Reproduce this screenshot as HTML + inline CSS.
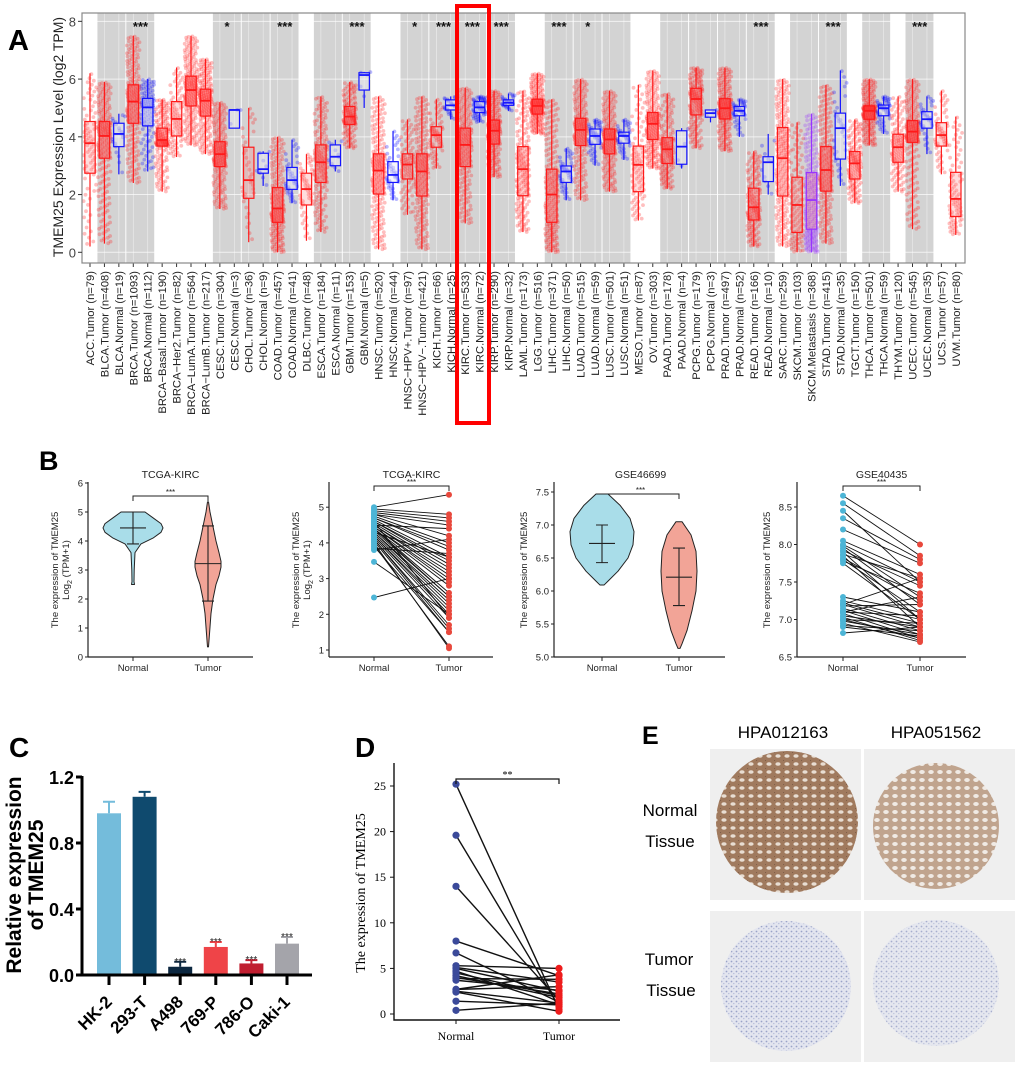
<!DOCTYPE html>
<html><head><meta charset="utf-8"><style>
html,body{margin:0;padding:0;background:#fff;overflow:hidden;}
svg{display:block;font-family:"Liberation Sans",sans-serif;}
</style></head><body>
<svg id="fig" width="1020" height="1066" viewBox="0 0 1020 1066" xmlns="http://www.w3.org/2000/svg">
<rect x="0" y="0" width="1020" height="1066" fill="#fff"/>
<g id="pA"></g>
<g id="pB"></g>
<g id="pC"></g>
<g id="pD"></g>
<g id="pE">
  <defs>
    <pattern id="tubBrown" width="9" height="8" patternUnits="userSpaceOnUse">
      <rect width="9" height="8" fill="#a07a5e"/>
      <ellipse cx="4" cy="4" rx="2.6" ry="1.8" fill="#e8ddd2"/>
      <ellipse cx="0" cy="0" rx="1.2" ry="1" fill="#7a5a45"/>
    </pattern>
    <pattern id="tubTan" width="9" height="8" patternUnits="userSpaceOnUse">
      <rect width="9" height="8" fill="#c0a48e"/>
      <ellipse cx="4" cy="4" rx="2.8" ry="2" fill="#f0eae4"/>
    </pattern>
    <pattern id="tumBlue" width="5" height="5" patternUnits="userSpaceOnUse">
      <rect width="5" height="5" fill="#e3e5ef"/>
      <circle cx="1.5" cy="1.5" r="0.9" fill="#9aa3c8"/>
      <circle cx="3.8" cy="3.6" r="0.7" fill="#b7bdd8"/>
    </pattern>
  </defs>
  <text x="642" y="744" font-size="25" font-weight="bold">E</text>
  <text x="783" y="738" font-size="17" text-anchor="middle">HPA012163</text>
  <text x="936" y="738" font-size="17" text-anchor="middle">HPA051562</text>
  <text x="670" y="816" font-size="17" text-anchor="middle">Normal</text>
  <text x="670" y="847" font-size="17" text-anchor="middle">Tissue</text>
  <text x="669" y="965" font-size="17" text-anchor="middle">Tumor</text>
  <text x="671" y="996" font-size="17" text-anchor="middle">Tissue</text>
  <rect x="710" y="749" width="151" height="151" fill="#efefef"/>
  <rect x="864" y="749" width="151" height="151" fill="#efefef"/>
  <rect x="710" y="911" width="151" height="151" fill="#efefef"/>
  <rect x="864" y="911" width="151" height="151" fill="#efefef"/>
  <circle cx="787" cy="822" r="71" fill="url(#tubBrown)"/>
  <circle cx="936" cy="826" r="63" fill="url(#tubTan)"/>
  <circle cx="786" cy="986" r="65" fill="url(#tumBlue)"/>
  <circle cx="936" cy="983" r="63" fill="url(#tumBlue)" opacity="0.85"/>
</g>
</svg>
<script>
const NS='http://www.w3.org/2000/svg';
function mk(tag,attrs,parent,text){const e=document.createElementNS(NS,tag);for(const k in attrs)e.setAttribute(k,attrs[k]);if(text!==undefined)e.textContent=text;parent.appendChild(e);return e;}

/* ================= PANEL A DATA ================= */
const aLabels=["ACC.Tumor (n=79)","BLCA.Tumor (n=408)","BLCA.Normal (n=19)","BRCA.Tumor (n=1093)","BRCA.Normal (n=112)","BRCA\u2212Basal.Tumor (n=190)","BRCA\u2212Her2.Tumor (n=82)","BRCA\u2212LumA.Tumor (n=564)","BRCA\u2212LumB.Tumor (n=217)","CESC.Tumor (n=304)","CESC.Normal (n=3)","CHOL.Tumor (n=36)","CHOL.Normal (n=9)","COAD.Tumor (n=457)","COAD.Normal (n=41)","DLBC.Tumor (n=48)","ESCA.Tumor (n=184)","ESCA.Normal (n=11)","GBM.Tumor (n=153)","GBM.Normal (n=5)","HNSC.Tumor (n=520)","HNSC.Normal (n=44)","HNSC\u2212HPV+.Tumor (n=97)","HNSC\u2212HPV\u2212.Tumor (n=421)","KICH.Tumor (n=66)","KICH.Normal (n=25)","KIRC.Tumor (n=533)","KIRC.Normal (n=72)","KIRP.Tumor (n=290)","KIRP.Normal (n=32)","LAML.Tumor (n=173)","LGG.Tumor (n=516)","LIHC.Tumor (n=371)","LIHC.Normal (n=50)","LUAD.Tumor (n=515)","LUAD.Normal (n=59)","LUSC.Tumor (n=501)","LUSC.Normal (n=51)","MESO.Tumor (n=87)","OV.Tumor (n=303)","PAAD.Tumor (n=178)","PAAD.Normal (n=4)","PCPG.Tumor (n=179)","PCPG.Normal (n=3)","PRAD.Tumor (n=497)","PRAD.Normal (n=52)","READ.Tumor (n=166)","READ.Normal (n=10)","SARC.Tumor (n=259)","SKCM.Tumor (n=103)","SKCM.Metastasis (n=368)","STAD.Tumor (n=415)","STAD.Normal (n=35)","TGCT.Tumor (n=150)","THCA.Tumor (n=501)","THCA.Normal (n=59)","THYM.Tumor (n=120)","UCEC.Tumor (n=545)","UCEC.Normal (n=35)","UCS.Tumor (n=57)","UVM.Tumor (n=80)"];
const aN=[79,408,19,1093,112,190,82,564,217,304,3,36,9,457,41,48,184,11,153,5,520,44,97,421,66,25,533,72,290,32,173,516,371,50,515,59,501,51,87,303,178,4,179,3,497,52,166,10,259,103,368,415,35,150,501,59,120,545,35,57,80];
const aQ1=[2.74,3.26,3.66,4.47,4.38,3.68,4.03,5.07,4.72,2.97,4.3,1.87,2.74,1.04,2.18,1.64,2.42,3.0,4.43,5.62,2.02,2.42,2.54,1.95,3.64,4.93,2.97,4.84,3.75,5.09,1.96,4.79,1.04,2.42,3.7,3.74,3.41,3.78,2.1,3.91,3.08,3.05,4.76,4.68,4.62,4.73,1.12,2.45,1.95,0.69,0.8,2.12,3.23,2.54,4.61,4.73,3.12,3.81,4.3,3.68,1.24];
const aMed=[3.78,4.03,4.1,5.22,5.02,3.89,4.62,5.62,5.25,3.4,4.93,2.5,2.88,1.52,2.5,2.19,3.12,3.31,4.7,6.14,2.83,2.68,3.04,2.8,4.06,5.09,3.72,5.02,4.21,5.18,2.88,5.07,2.0,2.8,4.24,4.03,3.91,4.03,3.03,4.45,3.57,3.66,5.31,4.82,4.99,4.9,1.56,3.12,3.26,1.64,1.81,2.85,4.3,3.08,4.9,4.99,3.64,4.18,4.61,4.06,1.85];
const aQ3=[4.53,4.53,4.47,5.8,5.33,4.3,5.22,6.1,5.65,3.83,4.93,3.64,3.43,2.24,2.94,2.74,3.72,3.72,5.05,6.22,3.41,3.14,3.41,3.41,4.35,5.28,4.3,5.22,4.58,5.28,3.66,5.3,2.88,2.99,4.64,4.27,4.27,4.16,3.68,4.84,3.97,4.21,5.68,4.93,5.32,5.05,2.22,3.31,4.32,2.6,2.76,3.66,4.82,3.49,5.07,5.1,4.09,4.56,4.87,4.49,2.77];
const aLo=[0.2,0.3,2.7,2.4,2.8,2.1,3.3,3.7,3.4,1.5,4.3,0.35,2.3,0.0,1.7,0.4,0.7,2.8,3.6,5.0,0.1,1.8,1.3,0.1,2.9,4.6,1.0,4.5,2.6,4.9,0.7,4.1,0.0,1.8,1.8,3.0,2.1,3.2,1.1,2.9,2.2,2.9,3.6,4.5,3.5,4.0,0.2,2.0,0.2,0.0,0.0,0.3,2.3,1.7,3.7,4.1,2.1,0.8,3.4,2.7,0.6];
const aHi=[6.2,5.9,4.8,7.5,6.0,5.3,6.4,7.5,6.7,5.2,4.93,5.0,3.5,4.0,3.9,3.4,5.4,3.9,5.9,6.25,5.4,4.2,4.6,5.4,5.3,5.4,5.7,5.4,5.6,5.5,5.6,6.2,5.3,3.6,6.0,4.6,5.6,4.6,5.8,6.3,5.5,4.3,6.4,4.93,6.4,5.3,3.5,4.1,6.0,4.5,4.8,5.8,6.3,4.6,6.0,5.4,5.4,6.0,5.4,5.6,4.7];
const aGrayBands=[[1,2],[3,4],[9,10],[11,12],[13,14],[16,17],[18,19],[22,23],[24,25],[26,27],[28,29],[32,33],[34,35],[36,37],[40,41],[42,43],[44,45],[46,47],[49,50],[51,52],[54,55],[57,58]];
const aSigIdx=[3,9,13,18,22,24,26,28,32,34,46,51,57];
const aSigTxt=["***","*","***","***","*","***","***","***","***","*","***","***","***"];
const aTicks=[0,2,4,6,8];

(function(){
const g=document.getElementById('pA');
const L=82,R=965,T=13,B=263;
const X0=90,DX=14.43;
const xA=i=>X0+i*DX;
const yA=v=>252.3-v*28.87;
let el;
el=mk('text',{x:8,y:50,'font-size':29,'font-weight':'bold'},g,'A');


el=mk('rect',{x:L,y:T,width:R-L,height:B-T,fill:'#fff'},g);


aGrayBands.forEach((b,k)=>{
  const e=mk('rect',{x:xA(b[0])-7,y:T,width:xA(b[1])-xA(b[0])+13.5,height:B-T,fill:'#d3d3d3'},g);
  
  
});
aTicks.forEach(t=>{
  const e=mk('line',{x1:L,x2:R,y1:yA(t),y2:yA(t),stroke:'#fff','stroke-width':1,opacity:0.7},g);
  
  
});
for(let i=0;i<aLabels.length;i++){
  const e=mk('line',{x1:xA(i),x2:xA(i),y1:T,y2:B,stroke:'#fff','stroke-width':0.6,opacity:0.6},g);
  
  
}
const phi=0.6180339887, phi2=0.7548776662;
function quant(i,u){
  const ks=[0,0.25,0.5,0.75,1], vs=[aLo[i],aQ1[i],aMed[i],aQ3[i],aHi[i]];
  for(let k=0;k<4;k++){ if(u<=ks[k+1]){const f=(u-ks[k])/(ks[k+1]-ks[k]);return vs[k]+f*(vs[k+1]-vs[k]);} }
  return vs[4];
}
for(let i=0;i<aLabels.length;i++){
  const isN=aLabels[i].indexOf('Normal')>=0, isM=aLabels[i].indexOf('Metastasis')>=0;
  const col=isM?'#9933ff':(isN?'#1515ff':'#ff1a1a');
  const gc=mk('g',{},g);
  
  
  const cnt=Math.min(aN[i],230);
  for(let k=0;k<cnt;k++){
    const u=((k+0.5)*phi)%1, w=((k+0.3)*phi2)%1;
    const e=mk('circle',{cx:(xA(i)+(w-0.5)*13).toFixed(1),cy:yA(quant(i,u)).toFixed(1),r:1.9,fill:col,'fill-opacity':isN?0.3:0.28},gc);
    
    
  }
  const bw=5.2;
  let e=mk('line',{x1:xA(i),x2:xA(i),y1:yA(aLo[i]),y2:yA(aQ1[i]),stroke:col,'stroke-width':1.2},gc);
  
  
  e=mk('line',{x1:xA(i),x2:xA(i),y1:yA(aQ3[i]),y2:yA(aHi[i]),stroke:col,'stroke-width':1.2},gc);
  
  
  e=mk('rect',{x:xA(i)-bw,y:yA(aQ3[i]),width:bw*2,height:Math.max(1,yA(aQ1[i])-yA(aQ3[i])),fill:isN?'rgba(235,235,245,0.45)':'rgba(255,120,120,0.25)',stroke:col,'stroke-width':1.2},gc);
  
  
  e=mk('line',{x1:xA(i)-bw,x2:xA(i)+bw,y1:yA(aMed[i]),y2:yA(aMed[i]),stroke:col,'stroke-width':1.8},gc);
  
  
  e=mk('line',{x1:xA(i),x2:xA(i),y1:B,y2:B+4,stroke:'#333','stroke-width':1},g);
  
  
  e=mk('text',{x:0,y:0,'font-size':11.2,fill:'#222','text-anchor':'end',transform:`translate(${xA(i)+4},${B+8}) rotate(-90)`},g,aLabels[i]);
  
  
}
aSigIdx.forEach((ix,k)=>{
  const e=mk('text',{x:xA(ix)+DX/2,y:31,'font-size':13,'font-weight':'bold','text-anchor':'middle',fill:'#111'},g,aSigTxt[k]);
  
  
});
el=mk('rect',{x:L,y:T,width:R-L,height:B-T,fill:'none',stroke:'#888','stroke-width':1.2},g);


aTicks.forEach(t=>{
  let e=mk('line',{x1:L-4,x2:L,y1:yA(t),y2:yA(t),stroke:'#333'},g);
  
  
  e=mk('text',{x:L-6,y:yA(t)+5,'font-size':13,'text-anchor':'end',fill:'#444'},g,String(t));
  
  
});
el=mk('text',{x:0,y:0,'font-size':14,'text-anchor':'middle',fill:'#222',transform:'translate(63,137) rotate(-90)'},g,'TMEM25 Expression Level (log2 TPM)');


el=mk('rect',{x:457,y:6,width:32,height:417,fill:'none',stroke:'#ff0000','stroke-width':4},g);


})();

/* ================= PANEL B DATA ================= */
const b1Ticks=[0,1,2,3,4,5,6];
const b1NormalV=[2.5,2.6,3.0,3.6,3.9,4.1,4.3,4.45,4.6,4.8,5.0];
const b1NormalW=[1.5,1,1.2,2,8,20,28,30,28,20,12];
const b1TumorV=[0.35,0.8,1.5,2.0,2.5,2.8,3.1,3.3,3.6,4.0,4.5,5.0,5.35];
const b1TumorW=[0.5,1.5,3,5,8,11,13,13,11,8,5,2,0.5];
const b1Stats={nMed:4.45,nLo:3.9,nHi:5.0,tMed:3.22,tLo:1.93,tHi:4.52};
const b2Ticks=[1,2,3,4,5];
const b2Normal=[5.0,4.95,4.9,4.85,4.8,4.8,4.75,4.7,4.7,4.65,4.6,4.6,4.55,4.5,4.5,4.45,4.45,4.4,4.4,4.35,4.3,4.3,4.25,4.2,4.2,4.15,4.1,4.1,4.05,4.0,3.95,3.9,3.85,3.8,3.47,2.47,4.6,4.4,4.3,4.5];
const b2Tumor=[5.35,4.8,4.7,4.6,4.5,4.2,4.0,3.9,3.8,3.6,3.5,3.4,3.3,3.2,3.1,3.0,2.9,2.8,2.6,2.5,2.4,2.3,2.2,2.1,2.0,1.9,1.7,1.6,1.5,1.05,1.1,1.5,3.7,4.1,2.0,3.0,1.9,2.5,3.6,4.4];
const b3Ticks=[5.0,5.5,6.0,6.5,7.0,7.5];
const b3NormalV=[6.09,6.15,6.3,6.5,6.7,6.9,7.1,7.3,7.47];
const b3NormalW=[2,6,16,26,31,32,28,18,6];
const b3TumorV=[5.13,5.2,5.4,5.7,6.0,6.3,6.6,6.85,7.05];
const b3TumorW=[1,3,8,13,17,18,17,12,3];
const b3Stats={nMed:6.72,nLo:6.43,nHi:7.0,tMed:6.21,tLo:5.78,tHi:6.65};
const b4Ticks=[6.5,7.0,7.5,8.0,8.5];
const b4Normal=[8.65,8.55,8.45,8.35,8.2,8.05,8.0,7.98,7.95,7.92,7.9,7.87,7.85,7.82,7.8,7.78,7.75,7.3,7.25,7.22,7.2,7.18,7.15,7.12,7.1,7.08,7.05,7.03,7.0,6.98,6.95,6.92,6.9,6.82,7.2,7.1,7.0];
const b4Tumor=[8.0,7.85,7.5,7.8,7.75,7.6,7.5,7.3,7.2,7.45,7.0,7.55,6.9,7.25,7.1,7.35,7.0,7.1,7.0,6.95,6.9,7.2,6.85,6.8,7.05,6.75,6.9,6.72,6.95,6.8,6.7,6.85,6.78,6.9,7.55,7.3,6.75];

(function(){
const g=document.getElementById('pB');
let el=mk('text',{x:39,y:470,'font-size':27,'font-weight':'bold'},g,'B');


function axes(sub,ax,title,ticks,yS,fmt,xN,xT,xEnd,yTop,twoLine,yBr){
  let e=mk('line',{x1:ax,x2:ax,y1:yTop,y2:657,stroke:'#222','stroke-width':1.2},sub);
  
  
  e=mk('line',{x1:ax,x2:xEnd,y1:657,y2:657,stroke:'#222','stroke-width':1.2},sub);
  
  
  ticks.forEach(t=>{
    let q=mk('line',{x1:ax-3,x2:ax,y1:yS(t),y2:yS(t),stroke:'#222'},sub);
    
    
    q=mk('text',{x:ax-5,y:yS(t)+3.5,'font-size':9.5,'text-anchor':'end',fill:'#222'},sub,fmt(t));
    
    
  });
  [[xN,'Normal'],[xT,'Tumor']].forEach(p=>{
    let q=mk('line',{x1:p[0],x2:p[0],y1:657,y2:661,stroke:'#222'},sub);
    
    
    q=mk('text',{x:p[0],y:671,'font-size':9.5,'text-anchor':'middle',fill:'#222'},sub,p[1]);
    
    
  });
  e=mk('text',{x:(xN+xT)/2,y:478,'font-size':10.5,'text-anchor':'middle',fill:'#222'},sub,title);
  
  
  e=mk('path',{d:`M${xN},${yBr+5}V${yBr}H${xT}V${yBr+5}`,fill:'none',stroke:'#222','stroke-width':1},sub);
  
  
  e=mk('text',{x:(xN+xT)/2,y:yBr-1,'font-size':8,'text-anchor':'middle',fill:'#222'},sub,'***');
  
  
  const cy=570;
  if(twoLine){
    e=mk('text',{x:0,y:0,'font-size':9.5,'text-anchor':'middle',fill:'#222',transform:`translate(${ax-30},${cy}) rotate(-90)`},sub,'The expression of TMEM25');
    
    
    e=mk('text',{x:0,y:0,'font-size':9.5,'text-anchor':'middle',fill:'#222',transform:`translate(${ax-19},${cy}) rotate(-90)`},sub);
    e.innerHTML='Log<tspan font-size="7" dy="3">2</tspan><tspan dy="-3"> (TPM+1)</tspan>';
    
    
  } else {
    e=mk('text',{x:0,y:0,'font-size':9.5,'text-anchor':'middle',fill:'#222',transform:`translate(${ax-27},${cy}) rotate(-90)`},sub,'The expression of TMEM25');
    
    
  }
}
function violin(sub,cx,vals,ws,yS,fill,st,name){
  let d='M'+cx+','+yS(vals[0]);
  for(let i=0;i<vals.length;i++) d+='L'+(cx+ws[i])+','+yS(vals[i]);
  for(let i=vals.length-1;i>=0;i--) d+='L'+(cx-ws[i])+','+yS(vals[i]);
  d+='Z';
  let e=mk('path',{d:d,fill:fill,stroke:'#222','stroke-width':1,'stroke-linejoin':'round'},sub);
  
  
  e=mk('path',{d:`M${cx},${yS(st[1])}V${yS(st[2])}M${cx-13},${yS(st[0])}H${cx+13}M${cx-6},${yS(st[1])}H${cx+6}M${cx-6},${yS(st[2])}H${cx+6}`,fill:'none',stroke:'#222','stroke-width':1.1},sub);
  
  
}
function paired(sub,xN,xT,nv,tv,yS){
  for(let i=0;i<nv.length;i++){
    const e=mk('line',{x1:xN,y1:yS(nv[i]),x2:xT,y2:yS(tv[i]),stroke:'#111','stroke-width':0.9},sub);
    
    
  }
  for(let i=0;i<nv.length;i++){
    let e=mk('circle',{cx:xN,cy:yS(nv[i]),r:3,fill:'#4db5d6'},sub);
    
    
    e=mk('circle',{cx:xT,cy:yS(tv[i]),r:3,fill:'#e8483c'},sub);
    
    
  }
}
let s=mk('g',{},g);


let yS=v=>657-v*29;
axes(s,88,'TCGA-KIRC',b1Ticks,yS,t=>String(t),133,208,253,482,true,496);
violin(s,133,b1NormalV,b1NormalW,yS,'#a9dde9',[b1Stats.nMed,b1Stats.nLo,b1Stats.nHi],'normal-violin');
violin(s,208,b1TumorV,b1TumorW,yS,'#f2a497',[b1Stats.tMed,b1Stats.tLo,b1Stats.tHi],'tumor-violin');
s=mk('g',{},g);


yS=v=>650-(v-1)*35.7;
axes(s,329,'TCGA-KIRC',b2Ticks,yS,t=>String(t),374,449,493,482,true,486);
paired(s,374,449,b2Normal,b2Tumor,yS);
s=mk('g',{},g);


yS=v=>657-(v-5)*66;
axes(s,554,'GSE46699',b3Ticks,yS,t=>t.toFixed(1),602,679,725,482,false,494);
violin(s,602,b3NormalV,b3NormalW,yS,'#a9dde9',[b3Stats.nMed,b3Stats.nLo,b3Stats.nHi],'normal-violin');
violin(s,679,b3TumorV,b3TumorW,yS,'#f2a497',[b3Stats.tMed,b3Stats.tLo,b3Stats.tHi],'tumor-violin');
s=mk('g',{},g);


yS=v=>657-(v-6.5)*75;
axes(s,797,'GSE40435',b4Ticks,yS,t=>t.toFixed(1),843,920,966,482,false,486);
paired(s,843,920,b4Normal,b4Tumor,yS);
})();

/* ================= PANEL C DATA ================= */
const cCats=["HK-2","293-T","A498","769-P","786-O","Caki-1"];
const cVals=[0.98,1.08,0.05,0.17,0.07,0.19];
const cErr=[0.07,0.03,0.03,0.03,0.02,0.04];
const cSig=["","","***","***","***","***"];
const cTicks=[0.0,0.4,0.8,1.2];
const cColors=["#74bcdb","#0f4a6e","#0c2740","#ef4448","#c01e30","#a4a4aa"];

(function(){
const g=document.getElementById('pC');
const yC=v=>975-v*165, xC=i=>109+i*35.6;
let el=mk('text',{x:9,y:757,'font-size':28,'font-weight':'bold'},g,'C');


cCats.forEach((c,i)=>{
  let e=mk('rect',{x:xC(i)-12,y:yC(cVals[i]),width:24,height:975-yC(cVals[i]),fill:cColors[i]},g);
  
  
  e=mk('path',{d:`M${xC(i)},${yC(cVals[i])}V${yC(cVals[i]+cErr[i])}M${xC(i)-6},${yC(cVals[i]+cErr[i])}H${xC(i)+6}`,stroke:cColors[i],'stroke-width':2,fill:'none'},g);
  
  
  if(cSig[i]){
    e=mk('text',{x:xC(i),y:yC(cVals[i]+cErr[i])+3,'font-size':10,'text-anchor':'middle',fill:'#222'},g,cSig[i]);
    
    
  }
  e=mk('line',{x1:xC(i),x2:xC(i),y1:975,y2:985,stroke:'#000','stroke-width':3},g);
  
  
  e=mk('text',{x:0,y:0,'font-size':17,'font-weight':'bold','text-anchor':'end',transform:`translate(${xC(i)+4},${1003}) rotate(-45)`},g,c);
  
  
});
el=mk('path',{d:'M82,776V975H312',stroke:'#000','stroke-width':3,fill:'none'},g);


cTicks.forEach(t=>{
  let e=mk('line',{x1:76,x2:82,y1:yC(t),y2:yC(t),stroke:'#000','stroke-width':3},g);
  
  
  e=mk('text',{x:74,y:yC(t)+7,'font-size':18,'font-weight':'bold','text-anchor':'end'},g,t.toFixed(1));
  
  
});
el=mk('text',{x:0,y:0,'font-size':21,'font-weight':'bold','text-anchor':'middle',transform:'translate(21,875) rotate(-90)'},g,'Relative expression');


el=mk('text',{x:0,y:0,'font-size':21,'font-weight':'bold','text-anchor':'middle',transform:'translate(43,875) rotate(-90)'},g,'of TMEM25');


})();

/* ================= PANEL D DATA ================= */
const dNormal=[25.2,19.6,14.0,8.0,6.7,5.3,5.0,4.7,4.5,4.2,3.9,3.7,2.7,2.5,2.7,2.4,1.4,0.4,5.1,4.0];
const dTumor=[0.5,0.8,1.5,4.2,1.3,5.0,2.5,1.0,2.0,1.8,3.8,2.6,4.3,1.2,3.0,0.3,1.0,1.2,3.5,2.2];
const dTicks=[0,5,10,15,20,25];

(function(){
const g=document.getElementById('pD');
const yD=v=>1014-v*9.12, xN=456, xT=559;
const serif='"Liberation Serif",serif';
let el=mk('text',{x:355,y:757,'font-size':28,'font-weight':'bold'},g,'D');


for(let i=0;i<dNormal.length;i++){
  const e=mk('line',{x1:xN,y1:yD(dNormal[i]),x2:xT,y2:yD(dTumor[i]),stroke:'#111','stroke-width':1.4},g);
  
  
}
for(let i=0;i<dNormal.length;i++){
  let e=mk('circle',{cx:xN,cy:yD(dNormal[i]),r:3.6,fill:'#3b4a9a'},g);
  
  
  e=mk('circle',{cx:xT,cy:yD(dTumor[i]),r:3.6,fill:'#ee1c1c'},g);
  
  
}
el=mk('path',{d:'M394,763V1020H620',stroke:'#111','stroke-width':1.4,fill:'none'},g);


dTicks.forEach(t=>{
  let e=mk('line',{x1:390,x2:394,y1:yD(t),y2:yD(t),stroke:'#111'},g);
  
  
  e=mk('text',{x:386,y:yD(t)+4,'font-size':12,'text-anchor':'end','font-family':serif},g,String(t));
  
  
});
[[xN,'Normal'],[xT,'Tumor']].forEach(p=>{
  let e=mk('line',{x1:p[0],x2:p[0],y1:1020,y2:1024,stroke:'#111'},g);
  
  
  e=mk('text',{x:p[0],y:1040,'font-size':12,'text-anchor':'middle','font-family':serif},g,p[1]);
  
  
});
el=mk('path',{d:`M${xN},784V779H${xT}V784`,stroke:'#111','stroke-width':1.2,fill:'none'},g);


el=mk('text',{x:(xN+xT)/2,y:778,'font-size':10,'text-anchor':'middle','font-family':serif},g,'**');


el=mk('text',{x:0,y:0,'font-size':14,'text-anchor':'middle','font-family':serif,transform:'translate(365,893) rotate(-90)'},g,'The expression of TMEM25');


})();
</script>
</body></html>
